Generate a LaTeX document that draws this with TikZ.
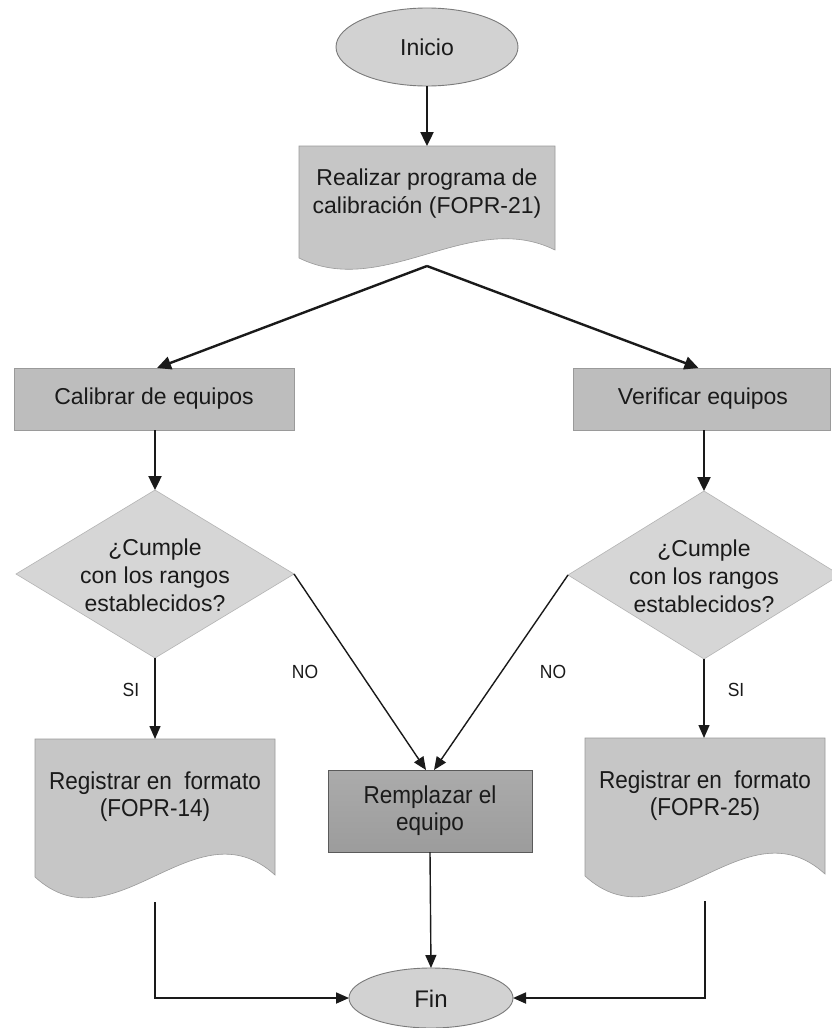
\documentclass[tikz,border=0pt]{standalone}
\usepackage{fontspec}
\setmainfont{Liberation Sans}
\newfontfamily\narrowsans{Liberation Sans}[FakeStretch=0.92]
\usetikzlibrary{shapes.geometric,arrows.meta}
\definecolor{termfill}{HTML}{D2D2D2}
\definecolor{termline}{HTML}{7A7A7A}
\definecolor{docgray}{HTML}{C6C6C6}
\definecolor{boxfill}{HTML}{BDBDBD}
\definecolor{boxline}{HTML}{9A9A9A}
\definecolor{diafill}{HTML}{D6D6D6}
\definecolor{dialine}{HTML}{B4B4B4}
\definecolor{remtop}{HTML}{ABABAB}
\definecolor{remmid}{HTML}{C8C8C8}
\definecolor{rembot}{HTML}{9C9C9C}
\definecolor{remline}{HTML}{5A5A5A}
\definecolor{ink}{HTML}{1A1A1A}
\begin{document}
\begin{tikzpicture}[x=1pt,y=-1pt,
  every node/.style={inner sep=0pt, outer sep=0pt, text=ink, font=\fontsize{23}{28}\selectfont},
  term/.style={ellipse, draw=termline, fill=termfill, line width=0.9pt},
  procbox/.style={rectangle, draw=boxline, fill=boxfill, line width=0.8pt},
  dia/.style={diamond, draw=dialine, fill=diafill, line width=0.6pt},
  holder/.style={rectangle, draw=none},
  txt/.style={align=center},
  regtxt/.style={align=center, font=\narrowsans\fontsize{24.5}{27}\selectfont},
  lbl/.style={font=\narrowsans\fontsize{19}{22}\selectfont},
  docfill/.style={fill=docgray, draw=boxline, line width=0.6pt},
  arrthick/.style={draw=ink, line width=2.4pt, -{Triangle[length=14pt,width=13pt]}},
  arrthin/.style={draw=ink, line width=1.4pt, -{Triangle[length=13pt,width=11pt]}}
]
\useasboundingbox (0,0) rectangle (832,1028);
\clip (0,0) rectangle (832,1028);
\fill[white] (0,0) rectangle (832,1028);

% ---------- shapes ----------
\node[term, minimum width=182pt, minimum height=78pt] (inicio) at (427,47) {Inicio};

% document 1
\path[docfill] (299,146) -- (555,146) -- (555,250)
  .. controls (470.3,208) and (384.3,300) .. (299,258) -- cycle;
\node[holder, minimum width=256pt, minimum height=108pt] (doc1) at (427,200) {};
\node[txt] (doc1t) at (427,194) {Realizar programa de\\calibración (FOPR-21)};

% process boxes
\node[procbox, minimum width=280pt, minimum height=62pt] (cal) at (154,399) {Calibrar de equipos};
\node[procbox, minimum width=257pt, minimum height=62pt] (ver) at (701.5,399) {};
\node[txt] (vert) at (703,399) {Verificar equipos};

% decisions
\node[dia, minimum width=278pt, minimum height=168pt] (d1) at (155,574) {};
\node[txt] (d1t) at (155,575) {¿Cumple\\con los rangos\\establecidos?};
\node[dia, minimum width=272pt, minimum height=168pt] (d2) at (704,575) {};
\node[txt] (d2t) at (704,576) {¿Cumple\\con los rangos\\establecidos?};

% registrar documents
\path[docfill] (35,739) -- (275,739) -- (275,875)
  .. controls (195,802) and (115,950) .. (35,877) -- cycle;
\node[holder, minimum width=240pt, minimum height=138pt] (reg1) at (155,808) {};
\node[regtxt] (reg1t) at (155,797) {Registrar en\ \ formato\\(FOPR-14)};

\path[docfill] (585,738) -- (825,738) -- (825,874)
  .. controls (745,801) and (665,949) .. (585,876) -- cycle;
\node[holder, minimum width=240pt, minimum height=138pt] (reg2) at (705,807) {};
\node[regtxt] (reg2t) at (705,796) {Registrar en\ \ formato\\(FOPR-25)};

% remplazar
\node[rectangle, draw=remline, line width=0.8pt, top color=remtop, middle color=remmid, bottom color=rembot,
      minimum width=204pt, minimum height=82pt] (rem) at (430,811) {};
\node[regtxt] (remt) at (430,811) {Remplazar el\\equipo};

% fin
\node[term, minimum width=164pt, minimum height=60pt] (fin) at (431,998) {};
\node (fint) at (431,999) {\fontsize{24}{28}\selectfont Fin};

% labels
\node[lbl] (si1) at (131,690) {SI};
\node[lbl] (si2) at (736,690) {SI};
\node[lbl] (no1) at (305,672) {NO};
\node[lbl] (no2) at (553,672) {NO};

% ---------- connectors ----------
\draw[arrthick] (inicio) -- (doc1.north);
\coordinate (split) at ([yshift=-12pt]doc1.south);
\draw[arrthick] (split) -- ([xshift=3pt]cal.north);
\draw[arrthick] (split) -- ([xshift=-3pt]ver.north);
\draw[arrthick] (cal.south -| d1.north) -- (d1.north);
\draw[arrthick] (ver.south -| d2.north) -- (d2.north);

\draw[arrthin] (d1.south) -- (reg1.north);
\draw[arrthin] (d2.south) -- (reg2.north -| d2.south);
\draw[arrthin] (d1.east) -- ([xshift=-4pt]rem.north);
\draw[arrthin] (d2.west) -- ([xshift=4pt]rem.north);

\draw[arrthin] (rem.south) -- (fin.north);
\draw[arrthin, line width=1.8pt] ([yshift=-25pt]reg1.south) |- (fin.west);
\draw[arrthin, line width=1.8pt] ([yshift=-25pt]reg2.south) |- (fin.east);
\end{tikzpicture}
\end{document}
